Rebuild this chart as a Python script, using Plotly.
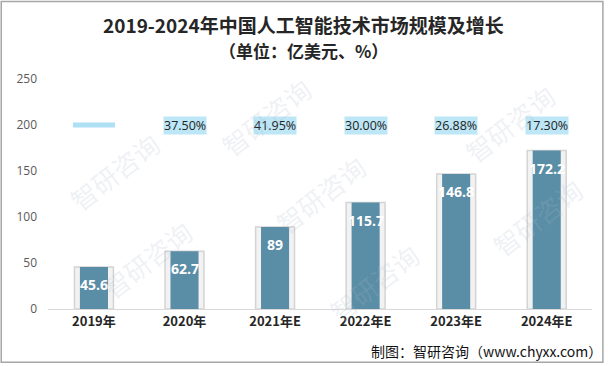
import plotly.graph_objects as go

categories = ["2019年", "2020年", "2021年E", "2022年E", "2023年E", "2024年E"]
market_size = [45.6, 62.7, 89, 115.7, 146.8, 172.2]
growth_rate = [None, 37.50, 41.95, 30.00, 26.88, 17.30]
growth_row = 200
y_ticks = [0, 50, 100, 150, 200, 250]

fig = go.Figure()

# outer glass cylinder
fig.add_trace(go.Bar(
    x=categories, y=market_size, width=0.43,
    marker=dict(color="#f2f2f2", line=dict(color="#d4d4d4", width=1.5)),
    hoverinfo="skip", showlegend=False,
))
# inner bar
fig.add_trace(go.Bar(
    x=categories, y=market_size, width=0.31,
    marker=dict(color="#5a8da6", line=dict(width=0)),
    showlegend=False,
))

# value labels just under the bar tops
for c, v in zip(categories, market_size):
    fig.add_annotation(
        x=c, y=v, text=f"<b>{v:g}</b>", showarrow=False, yanchor="top", yshift=-6,
        font=dict(color="white", size=14, family="Open Sans"),
    )

# 2019 placeholder (no growth value)
fig.add_trace(go.Scatter(
    x=[c for c, g in zip(categories, growth_rate) if g is None],
    y=[growth_row for g in growth_rate if g is None],
    mode="markers",
    marker=dict(symbol="line-ew", size=30, line=dict(color="#aee0f3", width=5)),
    showlegend=False, hoverinfo="skip",
))

for c, g in zip(categories, growth_rate):
    if g is None:
        continue
    fig.add_annotation(
        x=c, y=growth_row, text=f"{g:.2f}%", showarrow=False,
        font=dict(size=12.5, color="#222", family="Open Sans"),
        bgcolor="#bde6f6", borderpad=0,
    )

# watermarks
for (wx, wy) in [(0.02, 0.6), (0.3, 1.05), (0.5, 0.5), (0.95, 1.02), (0.08, 0.0), (0.6, -0.1), (1.0, 0.4)]:
    fig.add_annotation(
        x=wx, y=wy, xref="paper", yref="paper", text="智研咨询",
        showarrow=False, textangle=-38,
        font=dict(size=26, color="rgba(170,185,205,0.2)", family="Noto Sans CJK SC"),
    )

fig.add_annotation(
    x=0.47, y=1.17, xref="paper", yref="paper", xanchor="center", yanchor="bottom",
    text="<b>2019-2024年中国人工智能技术市场规模及增长</b>", showarrow=False,
    font=dict(size=19, color="#262626", family="Noto Sans CJK SC"),
)
fig.add_annotation(
    x=0.47, y=1.06, xref="paper", yref="paper", xanchor="center", yanchor="bottom",
    text="<b>（单位：亿美元、%）</b>", showarrow=False,
    font=dict(size=17, color="#262626", family="Noto Sans CJK SC"),
)
fig.add_annotation(
    x=1.022, y=-0.13, xref="paper", yref="paper", xanchor="right", yanchor="top",
    text="制图：智研咨询（www.chyxx.com）", showarrow=False,
    font=dict(size=14, color="#111", family="Noto Sans CJK SC"),
)

# outer frame
fig.add_shape(type="rect", xref="paper", yref="paper",
              x0=-0.086, x1=1.02, y0=-0.232, y1=1.337,
              line=dict(color="#a6a6a6", width=1.5))

fig.update_layout(
    width=608, height=366,
    margin=dict(l=48, r=16, t=79, b=57),
    paper_bgcolor="white", plot_bgcolor="white",
    barmode="overlay", bargap=0.3,
    font=dict(family="Noto Sans CJK SC"),
    xaxis=dict(showline=True, linecolor="#d9d9d9", linewidth=1, ticks="",
               tickfont=dict(size=13, color="#262626", family="Noto Sans CJK SC"),
               tickprefix="<b>", ticksuffix="</b>", showgrid=False),
    yaxis=dict(range=[0, 250], tickvals=y_ticks, showgrid=False, zeroline=False,
               showline=False, tickfont=dict(size=12, color="#595959", family="Open Sans"),
               ticklabelstandoff=10),
)

fig.write_html("out.html", config={"displayModeBar": False},
               post_script="document.body.style.margin='0';document.body.style.overflow='hidden';")
